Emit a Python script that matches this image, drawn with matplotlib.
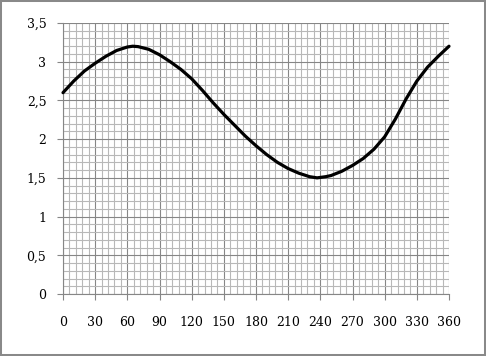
import matplotlib
matplotlib.use("Agg")
import matplotlib.pyplot as plt
import matplotlib.patches as patches
import numpy as np

# values
x_deg = [0, 10, 20, 30, 40, 50, 60, 65, 70, 80, 90, 100, 110, 120, 130, 140,
         150, 160, 170, 180, 190, 200, 210, 220, 230, 237, 245, 250, 260, 270,
         280, 290, 300, 310, 320, 330, 340, 350, 360]
y_val = [2.60, 2.75, 2.88, 2.98, 3.07, 3.145, 3.19, 3.20, 3.195, 3.16, 3.09, 3.00, 2.90, 2.78, 2.63, 2.47,
         2.32, 2.18, 2.04, 1.915, 1.80, 1.70, 1.62, 1.56, 1.515, 1.50, 1.515, 1.53, 1.585, 1.66,
         1.75, 1.87, 2.03, 2.26, 2.52, 2.75, 2.93, 3.07, 3.20]

x_ticks = list(range(0, 361, 30))
y_ticks = [0, 0.5, 1, 1.5, 2, 2.5, 3, 3.5]
y_labels = ["0", "0,5", "1", "1,5", "2", "2,5", "3", "3,5"]

fig = plt.figure(figsize=(4.86, 3.56), dpi=100)
ax = fig.add_axes([63/486, 1 - 294/356, 386/486, 271/356])

ax.set_xlim(0, 360)
ax.set_ylim(0, 3.5)
ax.set_xticks(x_ticks)
ax.set_yticks(y_ticks)
ax.set_yticklabels(y_labels)
ax.set_xticks(np.arange(0, 361, 6), minor=True)
ax.set_yticks(np.arange(0, 3.51, 0.1), minor=True)

ax.grid(which="minor", color="#b8b8b8", linewidth=0.8)
ax.grid(which="major", color="#868686", linewidth=0.8)
ax.set_axisbelow(True)

for s in ["top", "right"]:
    ax.spines[s].set_visible(False)
for s in ["left", "bottom"]:
    ax.spines[s].set_color("#868686")
    ax.spines[s].set_linewidth(0.8)

ax.tick_params(which="minor", length=0)
ax.tick_params(which="major", length=4, width=0.8, color="#868686",
               labelsize=9, labelcolor="black")
ax.tick_params(axis="x", pad=12)
ax.tick_params(axis="y", pad=8)
for lab in ax.get_xticklabels() + ax.get_yticklabels():
    lab.set_family("DejaVu Serif")

ax.plot(x_deg, y_val, color="black", linewidth=2.3, solid_joinstyle="round",
        solid_capstyle="round", clip_on=False, zorder=3)

fig.patches.append(patches.Rectangle((0, 0), 1, 1, transform=fig.transFigure,
                                     fill=False, edgecolor="#898989", linewidth=2.9))

fig.savefig("out.png", dpi=100)
